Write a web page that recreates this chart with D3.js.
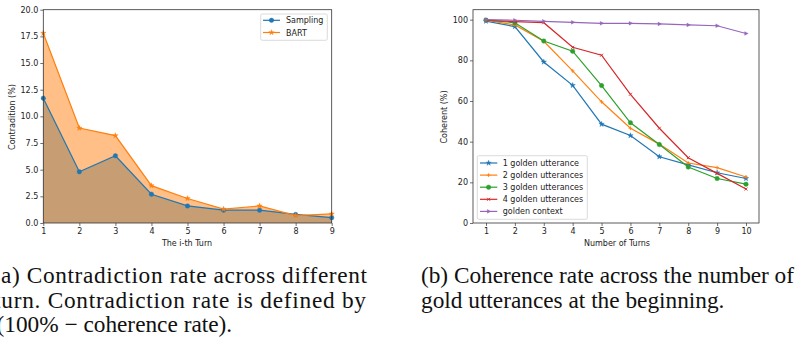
<!DOCTYPE html>
<html>
<head>
<meta charset="utf-8">
<script src="https://cdn.jsdelivr.net/npm/d3@7"></script>
<style>
    html, body { margin: 0; padding: 0; background: #fff; }
    svg { display: block; }
    .tick text { font-family: "DejaVu Sans", sans-serif; font-size: 8px; fill: #222; }
    .axis-label { font-family: "DejaVu Sans", sans-serif; font-size: 8px; fill: #222; }
    .legend text { font-family: "DejaVu Sans", sans-serif; font-size: 8px; fill: #222; }
    .caption { font-family: "Liberation Serif", "Times New Roman", serif; font-size: 23.3px; fill: #111; }
</style>
</head>
<body>
<svg id="chart" width="798" height="339"></svg>
<script>
// left panel: contradiction per turn
const turnsA = [1, 2, 3, 4, 5, 6, 7, 8, 9];
const sampling = [11.7, 4.8, 6.3, 2.7, 1.6, 1.2, 1.2, 0.8, 0.5];
const bart = [17.8, 8.9, 8.2, 3.5, 2.3, 1.3, 1.6, 0.7, 0.85];
const yTicksA = [0, 2.5, 5, 7.5, 10, 12.5, 15, 17.5, 20];

// right panel: coherence vs number of turns
const turnsB = [1, 2, 3, 4, 5, 6, 7, 8, 9, 10];
const golden1 = [99.3, 96.6, 79.2, 67.7, 48.6, 43.0, 32.6, 28.6, 24.7, 21.9];
const golden2 = [99.7, 97.4, 89.4, 74.8, 59.6, 46.6, 38.8, 29.5, 27.2, 22.6];
const golden3 = [99.8, 98.5, 89.5, 84.5, 67.6, 49.3, 38.6, 27.5, 21.9, 19.1];
const golden4 = [99.8, 99.0, 98.5, 86.4, 82.5, 63.3, 46.6, 32.1, 24.4, 16.7];
const goldenCtx = [100, 99.7, 99.2, 98.7, 98.2, 98.2, 97.9, 97.4, 97.0, 93.2];
const yTicksB = [0, 20, 40, 60, 80, 100];
const seriesNamesB = ["1 golden utterance", "2 golden utterances", "3 golden utterances", "4 golden utterances", "golden context"];

const captionA = ["(a) Contradiction rate across different", "turn. Contradiction rate is defined by", "(100% \u2212 coherence rate)."];
const captionB = ["(b) Coherence rate across the number of", "gold utterances at the beginning."];

const tab = ["#1f77b4", "#ff7f0e", "#2ca02c", "#d62728", "#9467bd"];

const svg = d3.select("#chart");
svg.append("rect").attr("width", 798).attr("height", 339).attr("fill", "#fff");

// custom marker shapes
const plusSym = {
    draw(ctx, size) {
        const r = Math.sqrt(size) / 2;
        ctx.moveTo(-r, 0); ctx.lineTo(r, 0);
        ctx.moveTo(0, -r); ctx.lineTo(0, r);
    }
};
const xSym = {
    draw(ctx, size) {
        const r = Math.sqrt(size) / 2;
        ctx.moveTo(-r, -r); ctx.lineTo(r, r);
        ctx.moveTo(-r, r); ctx.lineTo(r, -r);
    }
};
const triRight = {
    draw(ctx, size) {
        const r = Math.sqrt(size) / 1.6;
        ctx.moveTo(r, 0);
        ctx.lineTo(-r * 0.6, -r * 0.85);
        ctx.lineTo(-r * 0.6, r * 0.85);
        ctx.closePath();
    }
};

function drawMarker(g, kind, color, x, y) {
    let type, size, stroked = false;
    if (kind === "o") { type = d3.symbolCircle; size = 16; }
    else if (kind === "*") { type = d3.symbolStar; size = 9; }
    else if (kind === "+") { type = plusSym; size = 14; stroked = true; }
    else if (kind === "x") { type = xSym; size = 9; stroked = true; }
    else { type = triRight; size = 12; }
    g.append("path")
        .attr("d", d3.symbol().type(type).size(size)())
        .attr("transform", `translate(${x},${y})`)
        .attr("fill", stroked ? "none" : color)
        .attr("stroke", color)
        .attr("stroke-width", stroked ? 0.9 : 0.4);
}

function drawFrame(g, x, y) {
    const [x0, x1] = x.range();
    const [y0, y1] = y.range();
    g.append("rect")
        .attr("x", x0).attr("y", y1)
        .attr("width", x1 - x0).attr("height", y0 - y1)
        .attr("fill", "none").attr("stroke", "#333").attr("stroke-width", 0.8);
}

function drawAxes(g, x, y, xTicks, yTicks, yFmt) {
    const xa = g.append("g")
        .attr("transform", `translate(0,${y.range()[0]})`)
        .call(d3.axisBottom(x).tickValues(xTicks).tickSize(3).tickPadding(2).tickFormat(d3.format("d")));
    const ya = g.append("g")
        .attr("transform", `translate(${x.range()[0]},0)`)
        .call(d3.axisLeft(y).tickValues(yTicks).tickSize(3).tickPadding(2).tickFormat(yFmt));
    [xa, ya].forEach(a => {
        a.select(".domain").remove();
        a.selectAll(".tick line").attr("stroke", "#333").attr("stroke-width", 0.7);
    });
}

// ---------- panel (a) ----------
const xA = d3.scaleLinear().domain([1, 9]).range([43.3, 331.7]);
const yA = d3.scaleLinear().domain([0, 20]).range([223, 9.7]);
const gA = svg.append("g");

const areaA = vals => d3.area()
    .x((d, i) => xA(turnsA[i]))
    .y0(yA(0))
    .y1(d => yA(d))(vals);

gA.append("path").attr("d", areaA(sampling)).attr("fill", tab[0]).attr("fill-opacity", 0.5);
gA.append("path").attr("d", areaA(bart)).attr("fill", tab[1]).attr("fill-opacity", 0.5);

const lineA = d3.line().x((d, i) => xA(turnsA[i])).y(d => yA(d));
[[sampling, tab[0], "o"], [bart, tab[1], "*"]].forEach(([vals, col, mk]) => {
    gA.append("path").attr("d", lineA(vals))
        .attr("fill", "none").attr("stroke", col).attr("stroke-width", 1.2);
    vals.forEach((v, i) => drawMarker(gA, mk, col, xA(turnsA[i]), yA(v)));
});

drawFrame(gA, xA, yA);
drawAxes(gA, xA, yA, turnsA, yTicksA, d3.format(".1f"));

gA.append("text").attr("class", "axis-label")
    .attr("transform", "translate(15,117) rotate(-90)")
    .attr("text-anchor", "middle").text("Contradition (%)");
gA.append("text").attr("class", "axis-label")
    .attr("x", 187).attr("y", 246)
    .attr("text-anchor", "middle").text("The i-th Turn");

// legend (a)
const legA = gA.append("g").attr("class", "legend");
legA.append("rect").attr("x", 260.7).attr("y", 14).attr("width", 66.6).attr("height", 26.3).attr("rx", 1.5)
    .attr("fill", "#fff").attr("fill-opacity", 0.8).attr("stroke", "#ccc").attr("stroke-width", 0.7);
[["Sampling", tab[0], "o"], ["BART", tab[1], "*"]].forEach(([name, col, mk], i) => {
    const yy = 20.3 + i * 12.2;
    legA.append("line").attr("x1", 263).attr("x2", 280).attr("y1", yy).attr("y2", yy)
        .attr("stroke", col).attr("stroke-width", 1.2);
    drawMarker(legA, mk, col, 271.5, yy);
    legA.append("text").attr("x", 286).attr("y", yy + 3).text(name);
});

// ---------- panel (b) ----------
const xB = d3.scaleLinear().domain([0.55, 10.45]).range([473, 759]);
const yB = d3.scaleLinear().domain([0, 104.9]).range([223, 9.7]);
const gB = svg.append("g");

const seriesB = [golden1, golden2, golden3, golden4, goldenCtx];
const markersB = ["*", "+", "o", "x", ">"];
const lineB = d3.line().x((d, i) => xB(turnsB[i])).y(d => yB(d));
seriesB.forEach((vals, s) => {
    gB.append("path").attr("d", lineB(vals))
        .attr("fill", "none").attr("stroke", tab[s]).attr("stroke-width", 1.2);
    vals.forEach((v, i) => drawMarker(gB, markersB[s], tab[s], xB(turnsB[i]), yB(v)));
});

drawFrame(gB, xB, yB);
drawAxes(gB, xB, yB, turnsB, yTicksB, d3.format("d"));

gB.append("text").attr("class", "axis-label")
    .attr("transform", "translate(447,117) rotate(-90)")
    .attr("text-anchor", "middle").text("Coherent (%)");
gB.append("text").attr("class", "axis-label")
    .attr("x", 617).attr("y", 246)
    .attr("text-anchor", "middle").text("Number of Turns");

// legend (b)
const legB = gB.append("g").attr("class", "legend");
legB.append("rect").attr("x", 477.3).attr("y", 155.7).attr("width", 110).attr("height", 63.6).attr("rx", 1.5)
    .attr("fill", "#fff").attr("fill-opacity", 0.8).attr("stroke", "#ccc").attr("stroke-width", 0.7);
seriesNamesB.forEach((name, s) => {
    const yy = 163 + s * 12.1;
    legB.append("line").attr("x1", 480).attr("x2", 497.3).attr("y1", yy).attr("y2", yy)
        .attr("stroke", tab[s]).attr("stroke-width", 1.2);
    drawMarker(legB, markersB[s], tab[s], 488.6, yy);
    legB.append("text").attr("x", 502.7).attr("y", yy + 3).text(name);
});

// ---------- captions ----------
const capA = svg.append("g");
capA.append("text").attr("class", "caption").attr("x", -7.5).attr("y", 283)
    .attr("textLength", 374.5).attr("lengthAdjust", "spacing").text(captionA[0]);
capA.append("text").attr("class", "caption").attr("x", -6).attr("y", 308)
    .attr("textLength", 372).attr("lengthAdjust", "spacing").text(captionA[1]);
capA.append("text").attr("class", "caption").attr("x", -3.5).attr("y", 332).text(captionA[2]);

const capB = svg.append("g");
capB.append("text").attr("class", "caption").attr("x", 421).attr("y", 283)
    .attr("textLength", 373).attr("lengthAdjust", "spacing").text(captionB[0]);
capB.append("text").attr("class", "caption").attr("x", 421).attr("y", 307.5).text(captionB[1]);
</script>
</body>
</html>
